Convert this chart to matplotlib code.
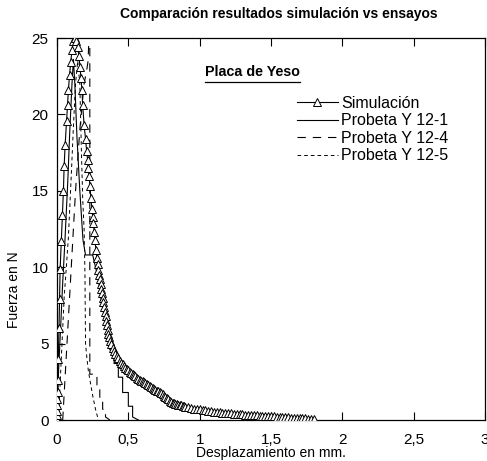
import matplotlib
matplotlib.use("Agg")
import matplotlib.pyplot as plt
from matplotlib.lines import Line2D

plt.rcParams['font.family'] = ['Liberation Sans', 'DejaVu Sans']
plt.rcParams['lines.scale_dashes'] = False

# ---- data ----
sim_x = [0.0, 0.0, 0.0, 0.002, 0.003, 0.004, 0.006, 0.01, 0.014, 0.018, 0.022, 0.03,
         0.038, 0.045, 0.05, 0.057, 0.067, 0.074, 0.08, 0.088, 0.096, 0.105, 0.115, 0.126,
         0.135, 0.145, 0.154, 0.161, 0.168, 0.175, 0.18, 0.19, 0.20, 0.208, 0.215, 0.22,
         0.225, 0.231, 0.238, 0.245, 0.25, 0.255, 0.261, 0.266, 0.273, 0.28, 0.285, 0.29,
         0.295, 0.30, 0.305, 0.31, 0.315, 0.32, 0.325, 0.33, 0.335, 0.34, 0.345, 0.35,
         0.355, 0.36, 0.365, 0.37, 0.38, 0.39, 0.40, 0.41, 0.42, 0.43, 0.44, 0.45, 0.46,
         0.47, 0.48, 0.49, 0.50, 0.51, 0.52, 0.53, 0.54, 0.55, 0.56, 0.57, 0.58, 0.59,
         0.60, 0.61, 0.62, 0.63, 0.64, 0.65, 0.66, 0.67, 0.68, 0.69, 0.70, 0.71, 0.72,
         0.73, 0.74, 0.75, 0.76, 0.77, 0.78, 0.79, 0.80, 0.81, 0.82, 0.83, 0.84, 0.85,
         0.86, 0.87, 0.88, 0.89, 0.90, 0.92, 0.94, 0.96, 0.98, 1.00, 1.02, 1.04, 1.06,
         1.08, 1.10, 1.12, 1.14, 1.16, 1.18, 1.20, 1.22, 1.24, 1.26, 1.28, 1.30, 1.32,
         1.34, 1.36, 1.38, 1.40, 1.42, 1.44, 1.46, 1.48, 1.50, 1.52, 1.54, 1.56, 1.58,
         1.60, 1.62, 1.64, 1.66, 1.68, 1.70, 1.72, 1.74, 1.76, 1.78, 1.80]
sim_y = [0.0, 0.3, 0.6, 1.0, 1.4, 1.8, 2.6, 4.0, 6.0, 7.9, 9.9, 11.7,
         13.4, 15.0, 16.6, 18.0, 19.6, 20.6, 21.6, 22.6, 23.4, 24.2, 24.8, 25.0,
         24.8, 24.4, 23.8, 23.1, 22.4, 21.6, 20.6, 19.3, 18.4, 17.6, 17.0, 16.5,
         16.0, 15.3, 14.5, 13.8, 13.3, 12.9, 12.3, 11.8, 11.1, 10.6, 10.2, 9.8,
         9.5, 9.2, 8.9, 8.6, 8.3, 8.0, 7.7, 7.4, 7.1, 6.8, 6.5, 6.2,
         5.9, 5.6, 5.4, 5.2, 4.95, 4.72, 4.52, 4.34, 4.18, 4.03, 3.89, 3.76, 3.64,
         3.53, 3.43, 3.33, 3.24, 3.15, 3.07, 2.99, 2.92, 2.85, 2.78, 2.71, 2.64, 2.58,
         2.52, 2.46, 2.40, 2.34, 2.28, 2.23, 2.17, 2.11, 2.05, 1.99, 1.93, 1.87, 1.81,
         1.74, 1.67, 1.60, 1.52, 1.44, 1.36, 1.22, 1.18, 1.14, 1.10, 1.07, 1.04, 1.01,
         0.98, 0.95, 0.92, 0.90, 0.87, 0.83, 0.79, 0.75, 0.72, 0.69, 0.66, 0.63, 0.60,
         0.58, 0.55, 0.53, 0.51, 0.49, 0.47, 0.45, 0.43, 0.41, 0.40, 0.38, 0.37, 0.35,
         0.34, 0.32, 0.31, 0.30, 0.29, 0.27, 0.26, 0.25, 0.24, 0.23, 0.22, 0.21, 0.20,
         0.18, 0.17, 0.16, 0.15, 0.14, 0.12, 0.11, 0.10, 0.08, 0.07, 0.05]

p1_x = [0.0, 0.01, 0.025, 0.04, 0.056, 0.075, 0.09, 0.105, 0.115, 0.125, 0.14, 0.16,
        0.182, 0.20, 0.25, 0.27, 0.29, 0.31, 0.33, 0.35, 0.37, 0.37, 0.40, 0.40, 0.43,
        0.43, 0.46, 0.46, 0.50, 0.50, 0.53, 0.53, 0.57]
p1_y = [0.0, 3.0, 6.0, 9.0, 11.8, 15.5, 19.0, 22.0, 23.6, 22.0, 18.5, 15.0,
        11.8, 10.8, 10.8, 10.0, 9.2, 7.8, 6.8, 6.0, 5.3, 4.6, 4.6, 3.7, 3.7,
        2.8, 2.8, 1.8, 1.8, 0.9, 0.9, 0.2, 0.0]

p4_x = [0.04, 0.07, 0.10, 0.13, 0.16, 0.19, 0.21, 0.218, 0.222, 0.23, 0.23, 0.28,
        0.28, 0.30, 0.30, 0.32, 0.32, 0.34, 0.34, 0.37]
p4_y = [0.0, 5.0, 10.0, 15.0, 19.0, 22.0, 23.0, 23.5, 24.6, 24.6, 3.0, 3.0,
        2.2, 2.2, 1.4, 1.4, 0.7, 0.7, 0.2, 0.0]

p5_x = [0.01, 0.03, 0.05, 0.079, 0.10, 0.114, 0.13, 0.145, 0.16, 0.17, 0.18, 0.19,
        0.196, 0.2, 0.21, 0.22, 0.25, 0.27, 0.29]
p5_y = [0.0, 4.0, 8.0, 11.8, 16.0, 19.0, 22.0, 23.5, 22.0, 18.0, 14.5, 12.5,
        9.5, 5.0, 4.0, 3.2, 1.6, 0.7, 0.0]

xticks = [0, 0.5, 1, 1.5, 2, 2.5, 3]
xtick_labels = ["0", "0,5", "1", "1,5", "2", "2,5", "3"]
yticks = [0, 5, 10, 15, 20, 25]

# ---- figure ----
fig = plt.figure(figsize=(4.87, 4.61), dpi=100)
ax = fig.add_axes([57/487, 41/461, 428/487, 382/461])

ax.plot(sim_x, sim_y, color='black', lw=0.8, marker='^', markersize=6,
        markerfacecolor='white', markeredgecolor='black', markeredgewidth=0.7,
        label='Simulación', zorder=3)
ax.plot(p1_x, p1_y, color='black', lw=0.8, label='Probeta Y 12-1', zorder=2)
ax.plot(p4_x, p4_y, color='black', lw=0.8, dashes=(6, 5), label='Probeta Y 12-4', zorder=2)
ax.plot(p5_x, p5_y, color='black', lw=0.7, dashes=(2.6, 2.2), label='Probeta Y 12-5', zorder=2)

ax.set_xlim(0, 3)
ax.set_ylim(0, 25)
ax.set_xticks(xticks)
ax.set_xticklabels(xtick_labels)
ax.set_yticks(yticks)
ax.tick_params(axis='both', direction='in', length=6, width=0.8, labelsize=11, pad=6)
ax.tick_params(axis='x', top=True, pad=9.5)
for s in ax.spines.values():
    s.set_linewidth(0.9)

ax.set_xlabel('Desplazamiento en mm.', fontsize=10, labelpad=-1)
ax.set_ylabel('Fuerza en N', fontsize=10)
ax.yaxis.set_label_coords((21 - 57) / 428, (420 - 290) / 382)
fig.text(279/487, 1 - 14/461, 'Comparación resultados simulación vs ensayos',
         ha='center', va='center', fontsize=10, fontweight='bold')

ax.text(1.37, 22.75, 'Placa de Yeso', ha='center', va='center',
        fontsize=10.3, fontweight='bold')
ax.add_line(Line2D([(205-57)/428, (300-57)/428], [(420-82)/382]*2,
                   transform=ax.transAxes, color='black', lw=0.9))

leg = ax.legend(loc='upper left', bbox_to_anchor=(0.545, 0.865), frameon=False,
                fontsize=11.5, handlelength=2.6, handletextpad=0.2, labelspacing=0.15,
                numpoints=1, borderaxespad=0)

fig.savefig('out.png', dpi=100)
